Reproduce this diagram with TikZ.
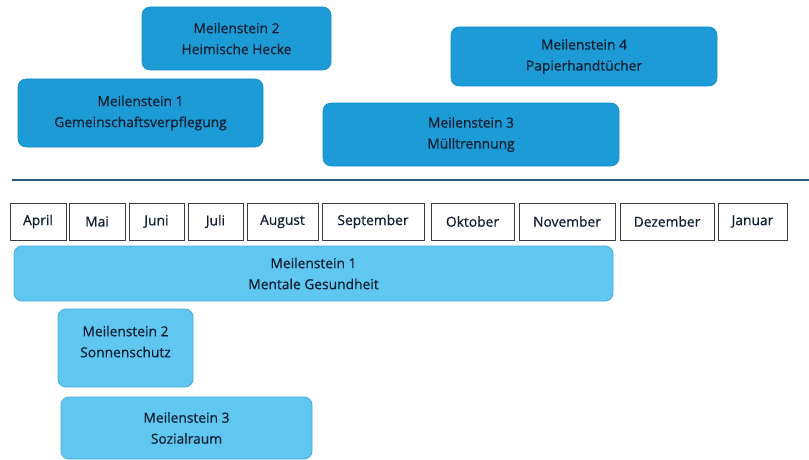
\documentclass[tikz,border=0pt]{standalone}
\usepackage{fontspec}
\setmainfont{Open Sans}[RawFeature={embolden=0.6}]
\definecolor{darkbox}{RGB}{28,155,214}
\definecolor{darkboxline}{RGB}{22,140,200}
\definecolor{lightbox}{RGB}{96,200,240}
\definecolor{lightboxline}{RGB}{70,170,220}
\definecolor{txt}{RGB}{16,30,50}
\definecolor{rule}{RGB}{36,95,125}
\definecolor{monthline}{RGB}{60,60,60}
\tikzset{
  base/.style={rectangle, inner sep=0pt, outer sep=0pt, align=center, text=txt,
    font=\fontsize{13.8}{21}\selectfont},
  topbox/.style={base, rounded corners=8pt, fill=darkbox, draw=darkboxline, line width=0.6pt},
  lowbox/.style={base, rounded corners=8pt, fill=lightbox, draw=lightboxline, line width=0.8pt},
  monthbox/.style={base, draw=monthline, fill=white, line width=0.9pt, font=\fontsize{13.8}{15}\selectfont},
}
\newcommand{\bx}[7]{% style, name, x1, y1, x2, y2, text
  \node[#1, minimum width={#5-#3}, minimum height={#6-#4}] (#2) at ({(#3+#5)/2},{(#4+#6)/2}) {#7};}
\begin{document}
\begin{tikzpicture}[x=1pt,y=-1pt]
\useasboundingbox (0,0) rectangle (809,460);
% top milestones
\bx{topbox}{t2}{142}{7}{331}{70}{Meilenstein 2\\Heimische Hecke}
\bx{topbox}{t1}{18}{79}{263}{147}{Meilenstein 1\\Gemeinschaftsverpflegung}
\bx{topbox}{t4}{451}{27}{717}{86}{Meilenstein 4\\Papierhandtücher}
\bx{topbox}{t3}{323}{103}{619}{166}{Meilenstein 3\\Mülltrennung}
% timeline rule
\coordinate (r1) at (12,180);
\coordinate (r2) at (809,180);
\draw[rule, line width=2pt] (r1) -- (r2);
% months
\bx{monthbox}{m1}{10}{203}{66}{240}{April}
\bx{monthbox}{m2}{69}{203}{125}{240}{Mai}
\bx{monthbox}{m3}{129}{203}{184}{240}{Juni}
\bx{monthbox}{m4}{188}{203}{243}{240}{Juli}
\bx{monthbox}{m5}{247}{203}{318}{240}{August}
\bx{monthbox}{m6}{322}{203}{424}{240}{September}
\bx{monthbox}{m7}{431}{203}{514}{240}{Oktober}
\bx{monthbox}{m8}{519}{203}{615}{240}{November}
\bx{monthbox}{m9}{620}{203}{714}{240}{Dezember}
\bx{monthbox}{m10}{718}{203}{787}{240}{Januar}
% lower milestones
\bx{lowbox}{b1}{14}{246}{613}{301}{Meilenstein 1\\Mentale Gesundheit}
\bx{lowbox}{b2}{58}{309}{193}{387}{Meilenstein 2\\Sonnenschutz\\[-8pt]\mbox{}}
\bx{lowbox}{b3}{61}{397}{312}{459}{Meilenstein 3\\Sozialraum}
\end{tikzpicture}
\end{document}
